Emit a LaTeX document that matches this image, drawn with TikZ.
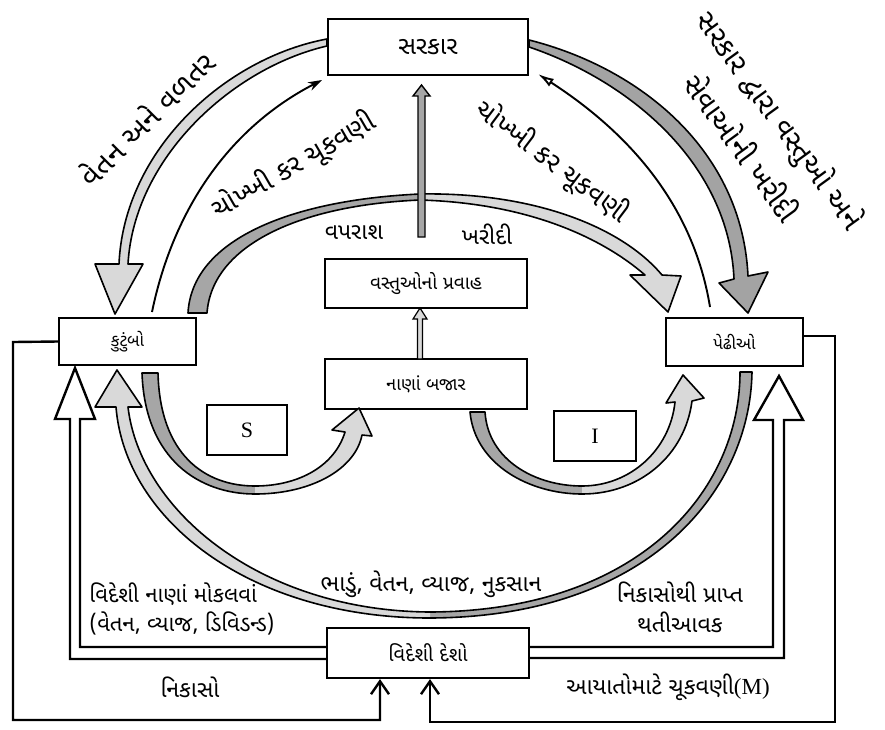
\documentclass[tikz,border=0pt]{standalone}
\usepackage{fontspec}
\newfontfamily\guj[Script=Gujarati]{Noto Sans Gujarati UI}
\newfontfamily\lser{Liberation Serif}
\usetikzlibrary{arrows.meta}
\definecolor{lgray}{gray}{0.85}
\definecolor{dgray}{gray}{0.65}
\definecolor{mgray}{gray}{0.64}
\begin{document}
\begin{tikzpicture}[x=1pt,y=-1pt,
  box/.style={draw, line width=2.2pt, inner sep=0pt, font=\guj\fontsize{19}{22}\selectfont},
  sbox/.style={draw, line width=2pt, inner sep=0pt, font=\lser\fontsize{22}{24}\selectfont},
  lbl/.style={inner sep=0pt, font=\guj\fontsize{23}{28}\selectfont},
  rlbl/.style={inner sep=0pt, font=\guj\fontsize{27}{30}\selectfont},
  conn/.style={line width=2.4pt},
  blk/.style={draw, line width=1.6pt, line join=round},
  hollow/.style={draw, fill=white, line width=2.4pt, line join=miter},
  thin/.style={line width=1.9pt}]
\useasboundingbox (0,0) rectangle (885,729);

% boxes
\node[box, minimum width=200pt, minimum height=56pt, font=\guj\fontsize{25}{28}\selectfont] (sarkar) at (428,47) {સરકાર};
\node[box, minimum width=137pt, minimum height=47pt, font=\guj\fontsize{17}{19}\selectfont] (kutumbo) at (127.5,341.5) {કુટુંબો};
\node[box, minimum width=137pt, minimum height=48pt, font=\guj\fontsize{17}{19}\selectfont] (pedhi) at (734.5,342) {પેઢીઓ};
\node[box, minimum width=202pt, minimum height=49pt] (vastu) at (426,283.5) {વસ્તુઓનો પ્રવાહ};
\node[box, minimum width=202pt, minimum height=50pt, font=\guj\fontsize{18}{21}\selectfont] (nana) at (426,384) {નાણાં બજાર};
\node[sbox, minimum width=80pt, minimum height=50pt] (S) at (247,430) {S};
\node[sbox, minimum width=82pt, minimum height=50pt] (I) at (595,436) {I};
\node[box, minimum width=202pt, minimum height=50pt, font=\guj\fontsize{20}{23}\selectfont] (videshi) at (428,653) {વિદેશી દેશો};

% outer thin connectors
\coordinate (l1) at (13,342);
\coordinate (l2) at (13,720);
\coordinate (l3) at (380,720);
\draw[conn, -{Straight Barb[length=13pt,width=18pt,line width=2.4pt]}] (kutumbo.west) -- (l1) -- (l2) -- (l3) -- (l3 |- videshi.south);
\coordinate (r1) at (835,336);
\coordinate (r2) at (835,722);
\coordinate (r3) at (430,722);
\draw[conn, -{Straight Barb[length=13pt,width=18pt,line width=2.4pt]}] (pedhi.east |- r1) -- (r1) -- (r2) -- (r3) -- (r3 |- videshi.south);

% hollow big arrows from foreign countries
\draw[hollow] (videshi.west |- 0,647) -- (80,647) -- (80,419) -- (95,419) -- (75,368) -- (55,419) -- (70,419) -- (70,659) -- (videshi.west |- 0,659);
\draw[hollow] (videshi.east |- 0,647) -- (773,647) -- (773,420) -- (754,420) -- (779,376) -- (803,420) -- (784,420) -- (784,658) -- (videshi.east |- 0,658);

% arrow 1: wages (sarkar -> kutumbo)
\draw[blk, fill=lgray] (sarkar.west |- 0,39) .. controls (225,58) and (124,150) .. (119,264) -- (95,264) -- (115,314) -- (143,264) -- (128,264)
  .. controls (134,158) and (232,68) .. (sarkar.west |- 0,46) -- cycle;

% arrow 2: net tax (kutumbo -> sarkar)
\draw[thin, -{Stealth[length=14pt,width=9pt]}] (152,312) .. controls (172,215) and (225,130) .. (322,80);

% arrow 3: consumption (kutumbo -> pedhi)
\fill[dgray] (188,313) .. controls (192,240) and (290,200) .. (420,194) -- (420,200) .. controls (300,205) and (212,245) .. (207,313) -- cycle;
\fill[lgray] (420,194) .. controls (530,192) and (620,225) .. (662,275) -- (681,276) -- (668,312) -- (630,275) -- (645,275)
  .. controls (600,236) and (525,203) .. (420,200) -- cycle;
\draw[blk] (188,313) .. controls (192,240) and (290,200) .. (420,194) .. controls (530,192) and (620,225) .. (662,275) -- (681,276) -- (668,312) -- (630,275) -- (645,275)
  .. controls (600,236) and (525,203) .. (420,200) .. controls (300,205) and (212,245) .. (207,313) -- cycle;

% arrow 4: net tax (pedhi -> sarkar)
\draw[thin, -{Latex[open,length=16pt,width=9pt]}] (710,307) .. controls (695,215) and (640,140) .. (538,74);

% arrow 5: govt purchases (sarkar -> pedhi)
\draw[blk, fill=mgray] (sarkar.east |- 0,40) .. controls (640,68) and (742,150) .. (748,276) -- (768,272) -- (748,313) -- (719,283) -- (734,279)
  .. controls (729,165) and (632,82) .. (sarkar.east |- 0,47) -- cycle;

% vertical arrows
\draw[line width=1.4pt, fill=dgray] (418,237) -- (418,96) -- (413,96) -- (421.5,85) -- (430,96) -- (425,96) -- (425,237) -- cycle;
\draw[line width=1.2pt, fill=lgray] (417.5,359) -- (417.5,319) -- (413,319) -- (420,308) -- (427,319) -- (422.5,319) -- (422.5,359) -- cycle;

% arrow 6: savings S (kutumbo -> nana)
\fill[dgray] (142,373) .. controls (145,460) and (200,494) .. (255,494) -- (255,486) .. controls (205,486) and (160,455) .. (158,373) -- cycle;
\fill[lgray] (255,494) .. controls (310,494) and (355,470) .. (362,435) -- (372,436) -- (359,408) -- (332,430) -- (345,432)
  .. controls (335,465) and (300,486) .. (255,486) -- cycle;
\draw[blk] (142,373) .. controls (145,460) and (200,494) .. (255,494) .. controls (310,494) and (355,470) .. (362,435) -- (372,436) -- (359,408) -- (332,430) -- (345,432)
  .. controls (335,465) and (300,486) .. (255,486) .. controls (205,486) and (160,455) .. (158,373) -- cycle;

% arrow 7: investment I (nana -> pedhi)
\fill[dgray] (470,412) .. controls (475,465) and (530,494) .. (582,494) -- (582,486) .. controls (535,486) and (488,460) .. (485,412) -- cycle;
\fill[lgray] (582,494) .. controls (640,494) and (685,455) .. (692,401) -- (704,398) -- (683,375) -- (666,403) -- (675,402)
  .. controls (670,450) and (630,486) .. (582,486) -- cycle;
\draw[blk] (470,412) .. controls (475,465) and (530,494) .. (582,494) .. controls (640,494) and (685,455) .. (692,401) -- (704,398) -- (683,375) -- (666,403) -- (675,402)
  .. controls (670,450) and (630,486) .. (582,486) .. controls (535,486) and (488,460) .. (485,412) -- cycle;

% arrow 8: rent, wages... (pedhi -> kutumbo)
\fill[dgray] (752,372) .. controls (750,490) and (650,617) .. (430,618) -- (430,612) .. controls (640,611) and (740,490) .. (740,372) -- cycle;
\fill[lgray] (430,618) .. controls (250,618) and (125,520) .. (116,407) -- (95,407) -- (117,370) -- (142,407) -- (128,407)
  .. controls (140,510) and (260,611) .. (430,612) -- cycle;
\draw[blk] (752,372) .. controls (750,490) and (650,617) .. (430,618) .. controls (250,618) and (125,520) .. (116,407) -- (95,407) -- (117,370) -- (142,407) -- (128,407)
  .. controls (140,510) and (260,611) .. (430,612) .. controls (640,611) and (740,490) .. (740,372) -- cycle;

% labels
\node[rlbl, rotate=45, font=\guj\fontsize{29}{32}\selectfont] (t1) at (146,118) {વેતન અને વળતર};
\node[rlbl, rotate=30] (t2) at (294,166) {ચોખ્ખી કર ચૂકવણી};
\node[rlbl, rotate=-37] (t3) at (552,162) {ચોખ્ખી કર ચૂકવણી};
\node[rlbl, rotate=-54, align=center, font=\guj\fontsize{29}{48}\selectfont] (t4) at (762,133) {સરકાર દ્વારા વસ્તુઓ અને\\સેવાઓની ખરીદી};
\node[lbl] (t5) at (354,233) {વપરાશ};
\node[lbl] (t6) at (487,234) {ખરીદી};
\node[lbl, align=left, font=\guj\fontsize{22}{29}\selectfont] (t7) at (182,609) {વિદેશી નાણાં મોકલવાં\\(વેતન, વ્યાજ, ડિવિડન્ડ)};
\node[lbl] (t8) at (431,584) {ભાડું, વેતન, વ્યાજ, નુકસાન};
\node[lbl, align=center, font=\guj\fontsize{23}{30}\selectfont] (t9) at (680,607) {નિકાસોથી પ્રાપ્ત\\થતીઆવક};
\node[lbl] (t10) at (190,687) {નિકાસો};
\node[lbl] (t11) at (668,687) {આયાતોમાટે ચૂકવણી{\lser(M)}};
\end{tikzpicture}
\end{document}
